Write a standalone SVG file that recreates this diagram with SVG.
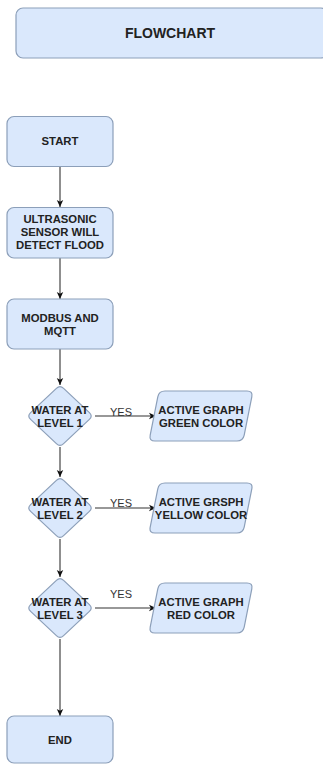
<svg xmlns="http://www.w3.org/2000/svg" width="323" height="764" viewBox="0 0 323 764">
<defs>
<style>
.box{fill:#dae8fc;stroke:#8c9fb9;stroke-width:1.2}
.t{font-family:"Liberation Sans",Arial,sans-serif;font-weight:bold;font-size:11.3px;fill:#222;text-anchor:middle}
.title{font-size:14px}
.lbl{font-family:"Liberation Sans",Arial,sans-serif;font-size:11px;fill:#333;text-anchor:middle}
.edge{stroke:#333;stroke-width:1.1;fill:none;marker-end:url(#arr)}
</style>
<marker id="arr" markerUnits="userSpaceOnUse" markerWidth="8" markerHeight="8" viewBox="0 0 8 8" refX="7" refY="4" orient="auto">
<path d="M0,0.8 L7,4 L0,7.2 L1.8,4 Z" fill="#111"/>
</marker>
<path id="dia" d="M56.4,388.4 Q60,385 63.6,388.4 L89.4,412.6 Q93,416 89.4,419.4 L63.6,443.6 Q60,447 56.4,443.6 L30.6,419.4 Q27,416 30.6,412.6 Z"/>
<path id="par" d="M165,391 L247,391 Q253,391 251.8,396.9 L244.2,435.1 Q243,441 237,441 L155,441 Q149,441 150.2,435.1 L157.8,396.9 Q159,391 165,391 Z"/>
</defs>
<rect width="323" height="764" fill="#ffffff"/>

<g id="title">
<rect class="box" x="16" y="8" width="312" height="50" rx="7"/>
<text class="t title" x="170" y="38">FLOWCHART</text>
</g>

<g id="connectors">
<line class="edge" x1="60" y1="166" x2="60" y2="207"/>
<line class="edge" x1="60" y1="258" x2="60" y2="299"/>
<line class="edge" x1="60" y1="349" x2="60" y2="385"/>
<line class="edge" x1="60" y1="447" x2="60" y2="477"/>
<line class="edge" x1="60" y1="539" x2="60" y2="577"/>
<line class="edge" x1="60" y1="639" x2="60" y2="716"/>
<line class="edge" x1="95" y1="416" x2="156" y2="416"/>
<line class="edge" x1="95" y1="508" x2="156" y2="508"/>
<line class="edge" x1="95" y1="608" x2="156" y2="608"/>
<text class="lbl" x="121" y="415.5">YES</text>
<text class="lbl" x="121" y="507">YES</text>
<text class="lbl" x="121" y="598">YES</text>
</g>

<g id="start">
<rect class="box" x="7" y="116.5" width="106" height="50" rx="7"/>
<text class="t" x="60" y="145">START</text>
</g>

<g id="ultrasonic">
<rect class="box" x="7" y="207.5" width="106" height="50.5" rx="7"/>
<text class="t" x="60" y="223">ULTRASONIC</text>
<text class="t" x="60" y="236">SENSOR WILL</text>
<text class="t" x="60" y="249">DETECT FLOOD</text>
</g>

<g id="modbus">
<rect class="box" x="7" y="299" width="106" height="50" rx="7"/>
<text class="t" x="60" y="322">MODBUS AND</text>
<text class="t" x="60" y="335">MQTT</text>
</g>

<g id="level1">
<use href="#dia" class="box"/>
<text class="t" x="60" y="414">WATER AT</text>
<text class="t" x="60" y="426.5">LEVEL 1</text>
</g>
<g id="green">
<use href="#par" class="box"/>
<text class="t" x="201" y="414">ACTIVE GRAPH</text>
<text class="t" x="201" y="426.5">GREEN COLOR</text>
</g>

<g id="level2" transform="translate(0,92)">
<use href="#dia" class="box"/>
<text class="t" x="60" y="414">WATER AT</text>
<text class="t" x="60" y="426.5">LEVEL 2</text>
</g>
<g id="yellow" transform="translate(0,92)">
<use href="#par" class="box"/>
<text class="t" x="201" y="414">ACTIVE GRSPH</text>
<text class="t" x="201" y="426.5">YELLOW COLOR</text>
</g>

<g id="level3" transform="translate(0,192)">
<use href="#dia" class="box"/>
<text class="t" x="60" y="414">WATER AT</text>
<text class="t" x="60" y="426.5">LEVEL 3</text>
</g>
<g id="red" transform="translate(0,192)">
<use href="#par" class="box"/>
<text class="t" x="201" y="414">ACTIVE GRAPH</text>
<text class="t" x="201" y="426.5">RED COLOR</text>
</g>

<g id="end">
<rect class="box" x="7" y="716" width="106" height="47" rx="7"/>
<text class="t" x="60" y="744">END</text>
</g>
</svg>
